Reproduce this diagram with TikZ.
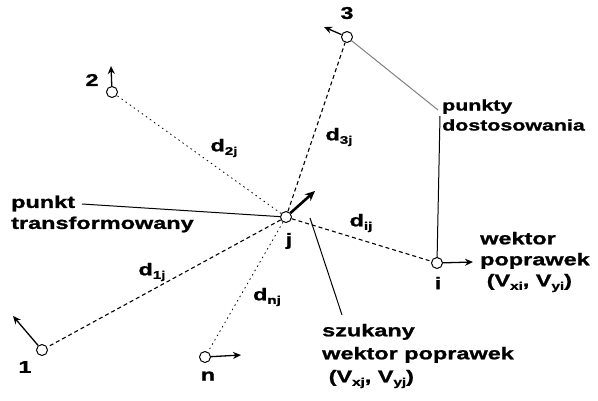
\documentclass[tikz,border=0pt]{standalone}
\usepackage{fontspec}
\setmainfont{Liberation Sans}[FakeStretch=1.38,FakeBold=1.2]
\usetikzlibrary{arrows.meta}
\newcommand\mysub[1]{\raisebox{-3.5pt}{\fontsize{11}{11}\selectfont #1}}
\begin{document}
\begin{tikzpicture}[x=1pt,y=-1pt,
  pnt/.style={circle,draw,line width=1pt,fill=white,inner sep=0pt,minimum size=11pt},
  lab/.style={font=\fontsize{17}{21}\selectfont\bfseries,inner sep=0pt,align=left},
  dist/.style={dash pattern=on 4pt off 3pt, line width=1.1pt},
  faint/.style={dash pattern=on 1.5pt off 3.5pt, line width=0.8pt},
  vec/.style={line width=1.3pt,-{Stealth[length=8pt,width=7pt]}},
  bigvec/.style={line width=2.6pt,-{Stealth[length=10pt,width=9pt]}},
  lead/.style={line width=1pt}]
\useasboundingbox (0,0) rectangle (598,400);
% points
\node[pnt] (cj) at (286,217) {};
\node[pnt] (c1) at (42,350) {};
\node[pnt] (cn) at (205,357) {};
\node[pnt] (c2) at (112,92) {};
\node[pnt] (c3) at (347,37) {};
\node[pnt] (ci) at (437,263) {};
% distance lines
\draw[dist] (cj) -- (c1);
\draw[faint] (cj) -- (cn);
\draw[faint] (cj) -- (c2);
\draw[dist] (cj) -- (c3);
\draw[dist] (cj) -- (ci);
% vectors
\coordinate (t1) at (13,316);
\coordinate (tn) at (241,355);
\coordinate (t2) at (111,66);
\coordinate (t3) at (324,27);
\coordinate (ti) at (473,262);
\coordinate (tj) at (315,191);
\draw[vec] (c1) -- (t1);
\draw[vec] (cn) -- (tn);
\draw[vec] (c2) -- (t2);
\draw[vec] (c3) -- (t3);
\draw[vec] (ci) -- (ti);
\draw[bigvec] (cj) -- (tj);
% point labels
\node[lab] (l1) at (25,367) {1};
\node[lab] (ln) at (208,376) {n};
\node[lab] (l2) at (92,80) {2};
\node[lab] (l3) at (347,13) {3};
\node[lab] (li) at (438,283) {i};
\node[lab] (lj) at (289,241) {j};
% distance labels
\node[lab] (d2) at (224,148) {d\mysub{2j}};
\node[lab] (d3) at (339,137) {d\mysub{3j}};
\node[lab] (di) at (361,223) {d\mysub{ij}};
\node[lab] (d1) at (152,272) {d\mysub{1j}};
\node[lab] (dn) at (267,297) {d\mysub{nj}};
% text labels
\node[lab,anchor=west,font=\fontsize{15.5}{20}\selectfont\bfseries] (pd) at (442,115) {punkty\\dostosowania};
\node[lab,anchor=west] (pt) at (11,214) {punkt\\transformowany};
\node[lab,anchor=west] (wp) at (480,262) {wektor\\poprawek\\\ (V\mysub{xi}, V\mysub{yi})};
\node[lab,anchor=west,font=\fontsize{17}{23}\selectfont\bfseries] (sw) at (322,356) {szukany\\wektor poprawek\\\ (V\mysub{xj}, V\mysub{yj})};
% leader lines
\coordinate (pda) at (438,110);
\coordinate (pdb) at (440,116);
\coordinate (pta) at (82,204);
\coordinate (swa) at (342,315);
\coordinate (cja) at (310,218);
\draw[lead,gray] (c3) -- (pda);
\draw[lead] (pdb) -- (ci);
\draw[lead] (pta) -- (cj);
\draw[lead] (cja) -- (swa);
\end{tikzpicture}
\end{document}
